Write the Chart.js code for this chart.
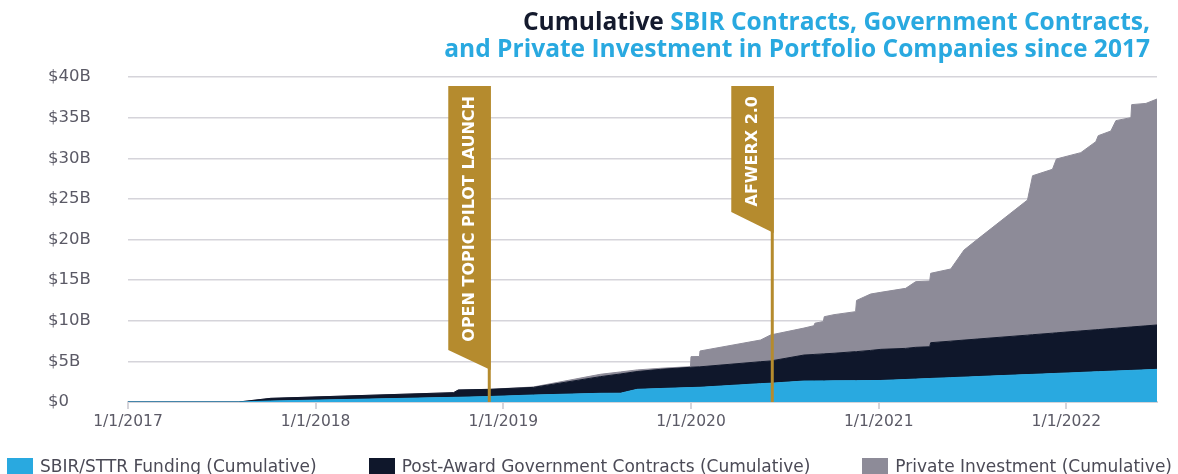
<!DOCTYPE html>
<html>
<head>
<meta charset="utf-8">
<script src="https://cdn.jsdelivr.net/npm/chart.js@4.4.1/dist/chart.umd.min.js"></script>
<style>
  html, body { margin: 0; padding: 0; background: #fff; }
  #wrap { position: relative; width: 1178px; height: 474px; overflow: hidden; }
  #myChart { position: absolute; left: 0; top: 0; }
  #title {
    position: absolute; right: 28px; top: 6.5px; text-align: right;
    font-family: 'Open Sans', sans-serif; font-weight: 700; font-size: 23.5px;
    line-height: 27.4px; color: #29a9e0; white-space: nowrap;
  }
  #title .dark { color: #141a2d; }
  #legend {
    position: absolute; left: 7px; right: 6px; top: 456px; height: 20px;
    display: flex; justify-content: space-between; align-items: center;
    font-family: 'DejaVu Sans', sans-serif; font-size: 17px; color: #4b4a56; white-space: nowrap;
  }
  #legend .item { display: flex; align-items: center; }
  #legend .swatch { width: 26px; height: 16px; margin-right: 7px; }
</style>
</head>
<body>
<div id="wrap">
  <canvas id="myChart" width="1178" height="474"></canvas>
  <div id="title"><span class="dark">Cumulative</span> SBIR Contracts, Government Contracts,<br><span id="line2">and Private Investment in Portfolio Companies since 2017</span></div>
  <div id="legend"></div>
</div>
<script>
// dates as decimal years
var dates = [2017.000, 2017.590, 2017.760, 2018.735, 2018.760, 2018.930, 2019.160, 2019.517, 2019.624, 2019.713,
  2019.837, 2019.997, 2020.000, 2020.045, 2020.048, 2020.371, 2020.424, 2020.602, 2020.655, 2020.660,
  2020.705, 2020.710, 2020.762, 2020.877, 2020.882, 2020.957, 2021.011, 2021.144, 2021.197, 2021.272,
  2021.277, 2021.384, 2021.455, 2021.526, 2021.793, 2021.820, 2021.926, 2021.947, 2022.077, 2022.157,
  2022.170, 2022.237, 2022.264, 2022.344, 2022.348, 2022.424, 2022.483];

// $B, each series on its own (stacked in the chart)
var sbirFunding = [0, 0, 0.12, 0.57, 0.58, 0.68, 0.86, 1.07, 1.08, 1.56,
  1.66, 1.78, 1.78, 1.81, 1.81, 2.26, 2.31, 2.58, 2.59, 2.59,
  2.60, 2.60, 2.61, 2.63, 2.63, 2.64, 2.65, 2.77, 2.82, 2.89,
  2.90, 3.00, 3.06, 3.13, 3.38, 3.40, 3.50, 3.52, 3.64, 3.72,
  3.73, 3.79, 3.82, 3.89, 3.89, 3.96, 4.02];
var govContracts = [0, 0, 0.33, 0.58, 0.90, 0.88, 0.94, 2.05, 2.37, 2.19,
  2.36, 2.49, 2.50, 2.52, 2.52, 2.70, 2.74, 3.20, 3.26, 3.27,
  3.32, 3.33, 3.39, 3.57, 3.57, 3.71, 3.83, 3.83, 3.91, 3.91,
  4.40, 4.49, 4.56, 4.62, 4.85, 4.88, 4.97, 4.99, 5.11, 5.17,
  5.18, 5.25, 5.26, 5.34, 5.35, 5.41, 5.46];
var privateInvestment = [0, 0, 0, 0, 0, 0, 0.05, 0.29, 0.25, 0.20,
  0.13, 0.08, 1.30, 1.27, 1.95, 2.67, 3.20, 3.32, 3.54, 3.84,
  3.98, 4.57, 4.75, 4.92, 6.30, 6.94, 7.02, 7.39, 8.08, 8.09,
  8.54, 8.88, 11.09, 12.27, 16.63, 19.57, 20.17, 21.40, 21.94, 23.15,
  23.87, 24.31, 25.55, 25.77, 27.36, 27.38, 27.81];

var seriesNames = ['SBIR/STTR Funding (Cumulative)', 'Post-Award Government Contracts (Cumulative)', 'Private Investment (Cumulative)'];

var yTickValues = [0, 5, 10, 15, 20, 25, 30, 35, 40];
var yTickLabels = ['$0', '$5B', '$10B', '$15B', '$20B', '$25B', '$30B', '$35B', '$40B'];
var xTickValues = [2017, 2018, 2019, 2020, 2021, 2022];
var xTickLabels = ['1/1/2017', '1/1/2018', '1/1/2019', '1/1/2020', '1/1/2021', '1/1/2022'];

var eventDates = [2018.925, 2020.433];
var eventLabels = ['OPEN TOPIC PILOT LAUNCH', 'AFWERX 2.0'];

// styles
var colors = ['#29a9e0', '#0f172b', '#8d8b98'];
var gold = '#b58b2e';
var gridColor = '#d5d4da';
var tickColor = '#5b5a66';
var flagSizes = [{left: 264, right: 284}, {left: 126, right: 147}];

// fit title width
var title = document.getElementById('title');
var w2 = document.getElementById('line2').getBoundingClientRect().width;
title.style.fontSize = (23.5 * 706 / w2) + 'px';

function points(values) {
    return dates.map(function (d, i) { return {x: d, y: values[i]}; });
}

function area(i, values, fill) {
    return {
        label: seriesNames[i],
        data: points(values),
        backgroundColor: colors[i],
        borderColor: colors[i],
        borderWidth: 1,
        pointRadius: 0,
        tension: 0,
        fill: fill
    };
}

// gold flags with rotated labels
var flagPlugin = {
    id: 'flags',
    afterDraw: function (chart) {
        var ctx = chart.ctx;
        var ca = chart.chartArea;
        var xs = chart.scales.x;
        var top = ca.top + 9;
        eventDates.forEach(function (d, i) {
            var x = xs.getPixelForValue(d);
            var sz = flagSizes[i];
            ctx.save();
            ctx.fillStyle = gold;
            ctx.fillRect(x - 1.5, top, 3, ca.bottom - top);
            ctx.beginPath();
            ctx.moveTo(x - 41, top);
            ctx.lineTo(x + 1.5, top);
            ctx.lineTo(x + 1.5, top + sz.right);
            ctx.lineTo(x - 41, top + sz.left);
            ctx.closePath();
            ctx.fill();
            ctx.translate(x - 19.5, top + 10);
            ctx.rotate(-Math.PI / 2);
            ctx.fillStyle = '#ffffff';
            ctx.font = 'bold 16px "DejaVu Sans"';
            ctx.textAlign = 'right';
            ctx.textBaseline = 'middle';
            ctx.fillText(eventLabels[i], 0, 0);
            ctx.restore();
        });
    }
};

var ctx = document.getElementById('myChart').getContext('2d');

var myChart = new Chart(ctx, {
    type: 'line',
    data: {
        datasets: [
            area(0, sbirFunding, 'origin'),
            area(1, govContracts, '-1'),
            area(2, privateInvestment, '-1')
        ]
    },
    options: {
        responsive: false,
        animation: false,
        layout: { padding: { top: 77, left: 48, right: 21, bottom: 32 } },
        plugins: {
            legend: { display: false },
            tooltip: { enabled: false }
        },
        scales: {
            x: {
                type: 'linear',
                min: 2017,
                max: 2022.483,
                z: 1,
                afterBuildTicks: function (s) {
                    s.ticks = xTickValues.map(function (v) { return {value: v}; });
                },
                afterFit: function (s) { s.height = 40; },
                grid: { drawOnChartArea: false, color: gridColor, lineWidth: 2, tickLength: 7 },
                border: { color: gridColor, width: 2 },
                ticks: {
                    autoSkip: false,
                    maxRotation: 0,
                    padding: 4,
                    color: tickColor,
                    font: { family: 'DejaVu Sans', size: 15.5 },
                    callback: function (v) { return xTickLabels[xTickValues.indexOf(v)]; }
                }
            },
            y: {
                stacked: true,
                min: 0,
                max: 40,
                z: 1,
                afterFit: function (s) { s.width = 80; },
                grid: { color: gridColor, lineWidth: 1.5, drawTicks: false },
                border: { display: false },
                ticks: {
                    stepSize: 5,
                    crossAlign: 'far',
                    padding: 0,
                    color: tickColor,
                    font: { family: 'DejaVu Sans', size: 16.5 },
                    callback: function (v) { return yTickLabels[yTickValues.indexOf(v)]; }
                }
            }
        }
    },
    plugins: [flagPlugin]
});

// legend built from the datasets
var legend = document.getElementById('legend');
myChart.data.datasets.forEach(function (ds) {
    var item = document.createElement('div');
    item.className = 'item';
    var sw = document.createElement('span');
    sw.className = 'swatch';
    sw.style.background = ds.backgroundColor;
    var tx = document.createElement('span');
    tx.textContent = ds.label;
    item.appendChild(sw);
    item.appendChild(tx);
    legend.appendChild(item);
});
</script>
</body>
</html>
